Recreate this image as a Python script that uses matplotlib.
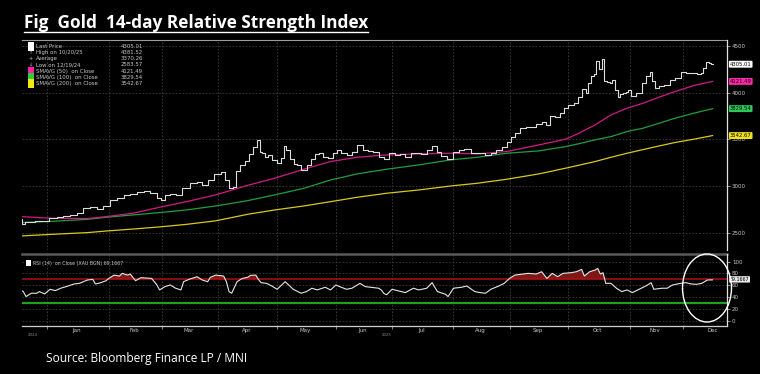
import pandas as pd
import matplotlib
matplotlib.use("Agg")
import matplotlib.pyplot as plt
from matplotlib.patches import Ellipse, Rectangle
from matplotlib.lines import Line2D
import matplotlib.transforms as mtransforms

# Gold spot, closes
price_dates = [
    "2024-12-18", "2024-12-19", "2024-12-20", "2024-12-24", "2024-12-27", "2024-12-31",
    "2025-01-03", "2025-01-08", "2025-01-10", "2025-01-15", "2025-01-17", "2025-01-22",
    "2025-01-24", "2025-01-29", "2025-01-31", "2025-02-05", "2025-02-07", "2025-02-12",
    "2025-02-14", "2025-02-19", "2025-02-21", "2025-02-26", "2025-02-28", "2025-03-03",
    "2025-03-05", "2025-03-07", "2025-03-11", "2025-03-14", "2025-03-19", "2025-03-21",
    "2025-03-25", "2025-03-27", "2025-04-01", "2025-04-03", "2025-04-04", "2025-04-08",
    "2025-04-09", "2025-04-10", "2025-04-14", "2025-04-16", "2025-04-17", "2025-04-21",
    "2025-04-22", "2025-04-23", "2025-04-24", "2025-04-25", "2025-04-28", "2025-04-30",
    "2025-05-02", "2025-05-05", "2025-05-06", "2025-05-07", "2025-05-09", "2025-05-12",
    "2025-05-13", "2025-05-15", "2025-05-19", "2025-05-20", "2025-05-22", "2025-05-23",
    "2025-05-27", "2025-05-29", "2025-06-02", "2025-06-03", "2025-06-05", "2025-06-09",
    "2025-06-11", "2025-06-13", "2025-06-17", "2025-06-19", "2025-06-23", "2025-06-25",
    "2025-06-27", "2025-07-01", "2025-07-03", "2025-07-07", "2025-07-09", "2025-07-11",
    "2025-07-15", "2025-07-17", "2025-07-21", "2025-07-23", "2025-07-25", "2025-07-28",
    "2025-07-31", "2025-08-04", "2025-08-06", "2025-08-08", "2025-08-13", "2025-08-18",
    "2025-08-20", "2025-08-22", "2025-08-26", "2025-08-28", "2025-09-01", "2025-09-02",
    "2025-09-04", "2025-09-08", "2025-09-10", "2025-09-12", "2025-09-16", "2025-09-18",
    "2025-09-19", "2025-09-23", "2025-09-25", "2025-09-29", "2025-09-30", "2025-10-02",
    "2025-10-06", "2025-10-07", "2025-10-09", "2025-10-10", "2025-10-13", "2025-10-14",
    "2025-10-15", "2025-10-16", "2025-10-17", "2025-10-20", "2025-10-21", "2025-10-22",
    "2025-10-23", "2025-10-24", "2025-10-27", "2025-10-28", "2025-10-29", "2025-10-30",
    "2025-10-31", "2025-11-03", "2025-11-04", "2025-11-07", "2025-11-10", "2025-11-12",
    "2025-11-13", "2025-11-14", "2025-11-17", "2025-11-19", "2025-11-21", "2025-11-25",
    "2025-11-27", "2025-12-01", "2025-12-03", "2025-12-05", "2025-12-09", "2025-12-10",
    "2025-12-11", "2025-12-12", "2025-12-15", "2025-12-16",
]
price_close = [
    2647, 2595, 2622, 2618, 2632, 2625,
    2657, 2668, 2682, 2693, 2711, 2764,
    2775, 2754, 2789, 2853, 2871, 2907,
    2918, 2942, 2953, 2925, 2871, 2853,
    2907, 2918, 2907, 2978, 3032, 3050,
    3014, 3067, 3132, 3156, 3067, 2978,
    2996, 3167, 3228, 3270, 3340, 3424,
    3496, 3371, 3353, 3317, 3335, 3282,
    3246, 3300, 3431, 3389, 3290, 3240,
    3228, 3175, 3228, 3290, 3340, 3353,
    3310, 3300, 3353, 3389, 3353, 3335,
    3371, 3442, 3389, 3381, 3371, 3317,
    3289, 3353, 3335, 3346, 3317, 3360,
    3353, 3346, 3389, 3431, 3371, 3324,
    3289, 3371, 3389, 3399, 3360, 3353,
    3335, 3353, 3389, 3418, 3478, 3531,
    3567, 3621, 3638, 3632, 3667, 3692,
    3656, 3753, 3745, 3781, 3835, 3870,
    3888, 3959, 4039, 3996, 4103, 4174,
    4200, 4340, 4255, 4360, 4130, 4110,
    4103, 4138, 4031, 3959, 3990, 3996,
    4010, 4031, 3967, 3996, 4103, 4174,
    4227, 4121, 4049, 4067, 4085, 4138,
    4156, 4227, 4216, 4210, 4203, 4210,
    4263, 4334, 4317, 4305,
]

# moving averages, sampled along the lines
ma_dates = [
    "2024-12-18", "2025-01-03", "2025-01-22", "2025-01-31", "2025-02-14", "2025-02-28",
    "2025-03-14", "2025-03-31", "2025-04-16", "2025-04-30", "2025-05-15", "2025-05-29",
    "2025-06-12", "2025-06-27", "2025-07-15", "2025-07-31", "2025-08-14", "2025-08-29",
    "2025-09-16", "2025-09-30", "2025-10-07", "2025-10-15", "2025-10-23", "2025-10-31",
    "2025-11-10", "2025-11-18", "2025-11-26", "2025-12-05", "2025-12-16",
]
sma50 = [2675, 2657, 2655, 2675, 2711, 2775, 2835, 2907, 3010, 3085, 3182, 3264,
         3310, 3335, 3346, 3353, 3346, 3371, 3442, 3503, 3567, 3656, 3763, 3835,
         3888, 3953, 4013, 4077, 4121]
sma100 = [2611, 2625, 2646, 2668, 2693, 2718, 2746, 2789, 2846, 2907, 2978, 3067,
          3132, 3182, 3228, 3282, 3310, 3353, 3378, 3424, 3455, 3496, 3531, 3585,
          3621, 3674, 3728, 3781, 3830]
sma200 = [2468, 2486, 2504, 2521, 2542, 2565, 2592, 2630, 2700, 2746, 2789, 2835,
          2882, 2925, 2960, 3003, 3032, 3075, 3132, 3193, 3225, 3264, 3310, 3353,
          3392, 3431, 3468, 3503, 3542]

# RSI(14)
rsi_dates = [
    "2024-12-18", "2024-12-19", "2024-12-20", "2024-12-24", "2024-12-26", "2024-12-27",
    "2024-12-31", "2025-01-02", "2025-01-06", "2025-01-08", "2025-01-10", "2025-01-15",
    "2025-01-17", "2025-01-22", "2025-01-24", "2025-01-27", "2025-01-29", "2025-01-31",
    "2025-02-03", "2025-02-05", "2025-02-07", "2025-02-10", "2025-02-12", "2025-02-13",
    "2025-02-17", "2025-02-19", "2025-02-21", "2025-02-25", "2025-02-27", "2025-02-28",
    "2025-03-04", "2025-03-06", "2025-03-10", "2025-03-12", "2025-03-13", "2025-03-17",
    "2025-03-20", "2025-03-24", "2025-03-26", "2025-03-27", "2025-03-31", "2025-04-03",
    "2025-04-04", "2025-04-07", "2025-04-08", "2025-04-10", "2025-04-14", "2025-04-16",
    "2025-04-17", "2025-04-21", "2025-04-22", "2025-04-23", "2025-04-25", "2025-04-29",
    "2025-05-01", "2025-05-06", "2025-05-08", "2025-05-09", "2025-05-14", "2025-05-16",
    "2025-05-20", "2025-05-22", "2025-05-27", "2025-05-29", "2025-06-02", "2025-06-04",
    "2025-06-06", "2025-06-10", "2025-06-13", "2025-06-17", "2025-06-19", "2025-06-24",
    "2025-06-25", "2025-06-26", "2025-06-27", "2025-07-01", "2025-07-03", "2025-07-08",
    "2025-07-11", "2025-07-15", "2025-07-18", "2025-07-22", "2025-07-24", "2025-07-29",
    "2025-07-30", "2025-08-01", "2025-08-06", "2025-08-08", "2025-08-13", "2025-08-15",
    "2025-08-19", "2025-08-21", "2025-08-26", "2025-08-28", "2025-09-01", "2025-09-03",
    "2025-09-08", "2025-09-10", "2025-09-15", "2025-09-17", "2025-09-19", "2025-09-23",
    "2025-09-25", "2025-09-29", "2025-10-02", "2025-10-06", "2025-10-08", "2025-10-09",
    "2025-10-13", "2025-10-15", "2025-10-16", "2025-10-17", "2025-10-20", "2025-10-21",
    "2025-10-23", "2025-10-27", "2025-10-29", "2025-10-31", "2025-11-04", "2025-11-06",
    "2025-11-11", "2025-11-13", "2025-11-14", "2025-11-19", "2025-11-21", "2025-11-25",
    "2025-11-28", "2025-12-02", "2025-12-04", "2025-12-08", "2025-12-10", "2025-12-12",
    "2025-12-16",
]
rsi = [
    52.0, 49.3, 40.9, 46.5, 46.5, 49.3,
    45.3, 53.2, 51.0, 55.0, 57.7, 62.2,
    63.3, 68.9, 70.0, 62.2, 64.4, 67.8,
    71.7, 77.3, 75.6, 80.2, 77.3, 79.1,
    67.8, 72.8, 72.3, 71.7, 60.5, 52.1,
    57.7, 60.5, 55.0, 52.1, 66.1, 70.0,
    74.6, 68.9, 66.1, 73.5, 77.3, 75.6,
    66.1, 49.3, 46.5, 66.1, 71.7, 73.5,
    76.8, 77.3, 70.0, 64.4, 63.3, 58.8,
    53.2, 66.1, 57.7, 53.2, 46.5, 49.3,
    55.0, 52.1, 56.6, 52.1, 60.5, 56.6,
    53.2, 55.0, 63.3, 57.7, 56.6, 55.0,
    52.0, 46.0, 44.0, 53.2, 51.0, 47.6,
    55.0, 52.1, 55.0, 64.4, 49.3, 44.8,
    40.9, 55.0, 56.6, 58.8, 49.3, 47.6,
    46.5, 53.2, 58.8, 63.3, 71.7, 77.3,
    79.1, 80.2, 79.1, 83.0, 71.7, 80.2,
    74.6, 80.2, 81.3, 83.0, 86.9, 75.6,
    83.0, 85.8, 88.6, 79.1, 81.3, 63.3,
    63.3, 55.0, 49.3, 52.1, 47.6, 52.1,
    58.8, 64.4, 53.2, 55.0, 55.0, 60.5,
    63.3, 64.4, 62.2, 61.6, 63.3, 68.9,
    69.1667,
]

month_labels = ["Jan", "Feb", "Mar", "Apr", "May", "Jun",
                "Jul", "Aug", "Sep", "Oct", "Nov", "Dec"]

legend_rows = [
    ("Last Price", "4305.01"),
    ("High on 10/20/25", "4381.52"),
    ("Average", "3370.26"),
    ("Low on 12/19/24", "2583.57"),
    ("SMAVG (50)  on Close", "4121.49"),
    ("SMAVG (100)  on Close", "3829.54"),
    ("SMAVG (200)  on Close", "3542.67"),
]

# trading-day axis (weekdays), like the terminal chart
days = pd.bdate_range("2024-12-18", "2025-12-31")


def xpos(ds):
    return days.get_indexer(pd.to_datetime(ds))


px = xpos(price_dates)
mx = xpos(ma_dates)
rx = xpos(rsi_dates)

BG = "black"
GRID = "#3c3c3c"
TXT = "#c8c8c8"
C50, C100, C200 = "#d01a85", "#1f9e3c", "#d8c81e"

W, H = 760, 374
fig = plt.figure(figsize=(W / 100, H / 100), dpi=100, facecolor=BG)
ax = fig.add_axes([22 / W, 1 - 250 / H, 705 / W, 210 / H])
ax2 = fig.add_axes([22 / W, 1 - 326 / H, 705 / W, 72 / H], sharex=ax)

month_starts = [days.get_indexer([d])[0] for d in
                pd.date_range("2025-01-01", "2025-12-01", freq="BMS")]
month_mids = []
for m in range(1, 13):
    idx = [i for i, d in enumerate(days) if d.year == 2025 and d.month == m]
    month_mids.append((idx[0] + idx[-1]) / 2)

for a in (ax, ax2):
    a.set_facecolor(BG)
    for s in ("left", "top", "bottom"):
        a.spines[s].set_visible(False)
    a.spines["right"].set_color("#e0e0e0")
    a.spines["right"].set_linewidth(0.9)
    a.yaxis.tick_right()
    a.tick_params(axis="y", colors=TXT, labelsize=4, length=2, width=0.5, pad=1.5)
    for x in month_starts:
        a.axvline(x, color=GRID, lw=0.6, ls=(0, (2, 2)), zorder=0)

# price panel
ax.set_xlim(0.5, 264.4)
ax.set_ylim(2318, 4564)
ax.set_yticks([2500, 3000, 3500, 4000, 4500])
for y in [2500, 3000, 3500, 4000, 4500]:
    ax.axhline(y, color=GRID, lw=0.6, ls=(0, (2, 2)), zorder=0)
ax.plot(mx, sma200, color=C200, lw=0.9, zorder=2)
ax.plot(mx, sma100, color=C100, lw=0.9, zorder=2)
ax.plot(mx, sma50, color=C50, lw=0.9, zorder=2)
ax.plot(px, price_close, color="#dcdcdc", lw=0.8, drawstyle="steps-mid", zorder=3)
ax.plot([0, 1], [1, 1], transform=ax.transAxes, color="#9a9a9a", lw=0.8, clip_on=False)

# right-hand value tags
tr = mtransforms.blended_transform_factory(ax.transAxes, ax.transData)
tags = [(price_close[-1], "4305.01", "white"), (sma50[-1], "4121.49", "#ff2aa8"),
        (sma100[-1], "3829.54", "#2ec95a"), (sma200[-1], "3542.67", "#f2e21c")]
for v, s, c in tags:
    ax.text(1.004, v, s, transform=tr, fontsize=3.8, color="black", va="center",
            ha="left", clip_on=False,
            bbox=dict(boxstyle="round,pad=0.18", fc=c, ec="none"))

# legend block
lx0 = (28 - 22) / 705
for k, (name, val) in enumerate(legend_rows):
    yy = 1 - (46.7 + 6.0 * k + (1.0 if k > 3 else 0) - 40) / 210
    if k == 0:
        ax.add_patch(Rectangle((lx0, yy - 0.02), 6 / 705, 0.04, transform=ax.transAxes,
                               fc="white", ec="none", clip_on=False))
    elif k in (4, 5, 6):
        col = ["#ff1fa5", "#2ecc40", "#f5e614"][k - 4]
        ax.add_patch(Rectangle((lx0, yy - 0.02), 6 / 705, 0.04, transform=ax.transAxes,
                               fc=col, ec="none", clip_on=False))
    else:
        g = {1: "\u2191", 2: "+", 3: "\u2193"}[k]
        ax.text(lx0 + 3 / 705, yy, g, transform=ax.transAxes, fontsize=3.5,
                color=TXT, ha="center", va="center")
    ax.text(lx0 + 8 / 705, yy, name, transform=ax.transAxes, fontsize=3.9,
            color=TXT, va="center")
    ax.text((143 - 22) / 705, yy, val, transform=ax.transAxes, fontsize=3.9,
            color=TXT, va="center", ha="right")

# RSI panel
ax2.set_ylim(-9, 113)
ax2.set_yticks([0, 20, 40, 60, 80, 100])
for y in [0, 20, 40, 60, 80, 100]:
    ax2.axhline(y, color=GRID, lw=0.6, ls=(0, (2, 2)), zorder=0)
ax2.axhline(70, color="#b01212", lw=1.1, zorder=2)
ax2.axhline(30, color="#1aa31a", lw=1.6, zorder=2)
ax2.fill_between(rx, rsi, 70, where=[v > 70 for v in rsi], interpolate=True,
                 color="#7c1818", lw=0, zorder=1)
ax2.plot(rx, rsi, color="#e6e6e6", lw=0.8, zorder=3)
ax2.plot([0, 1], [1.0, 1.0], transform=ax2.transAxes, color="#5a5a5a", lw=1.8,
         clip_on=False)
ax2.spines["bottom"].set_visible(True)
ax2.spines["bottom"].set_color("#d0d0d0")
ax2.spines["bottom"].set_linewidth(0.9)
ax2.set_xticks(month_starts)
ax2.set_xticklabels([])
ax2.set_xticks(month_mids, minor=True)
ax2.set_xticklabels(month_labels, minor=True)
ax2.tick_params(axis="x", which="major", colors="#bbbbbb", length=2.5, width=0.5)
ax2.tick_params(axis="x", which="minor", length=0, labelsize=4, colors=TXT, pad=1.5)
# shared x: keep the upper panel free of month ticks and labels
ax.tick_params(axis="x", which="both", bottom=False, labelbottom=False)

tr2 = mtransforms.blended_transform_factory(ax2.transAxes, ax2.transData)
ax2.text(1.004, 70, "69.1667", transform=tr2, fontsize=3.4, color="black",
         va="center", ha="left", clip_on=False,
         bbox=dict(boxstyle="round,pad=0.15", fc="#e8e8e8", ec="none"))
ax2.add_patch(Rectangle((4 / 705, 0.835), 5 / 705, 0.075, transform=ax2.transAxes,
                        fc="white", ec="none", clip_on=False))
ax2.text(11 / 705, 0.872, "RSI (14)  on Close (XAU BGN) 69.1667", transform=ax2.transAxes,
         fontsize=3.4, color=TXT, va="center")

fig.text(28 / W, 1 - 336 / H, "2024", fontsize=2.8, color="#8a8a8a")
fig.text(382 / W, 1 - 336 / H, "2025", fontsize=2.8, color="#8a8a8a")

# highlight ring round the latest RSI reading
fig.add_artist(Ellipse((707 / W, 1 - 288 / H), 49 / W, 68 / H, transform=fig.transFigure,
                       fill=False, ec="white", lw=1.0))

# title with underline
t = fig.text(24 / W, 1 - 28 / H, "Fig  Gold  14-day Relative Strength Index",
             fontsize=12.4, fontweight="bold", color="white", family="Open Sans")
fig.canvas.draw()
bb = t.get_window_extent().transformed(fig.transFigure.inverted())
fig.add_artist(Line2D([bb.x0, bb.x1], [1 - 32 / H, 1 - 32 / H], color="white", lw=1.0,
                      transform=fig.transFigure))

fig.text(46 / W, 1 - 362 / H, "Source: Bloomberg Finance LP / MNI", fontsize=8.6,
         color="white", family="Open Sans")

fig.savefig("out.png", dpi=100, facecolor=BG)
